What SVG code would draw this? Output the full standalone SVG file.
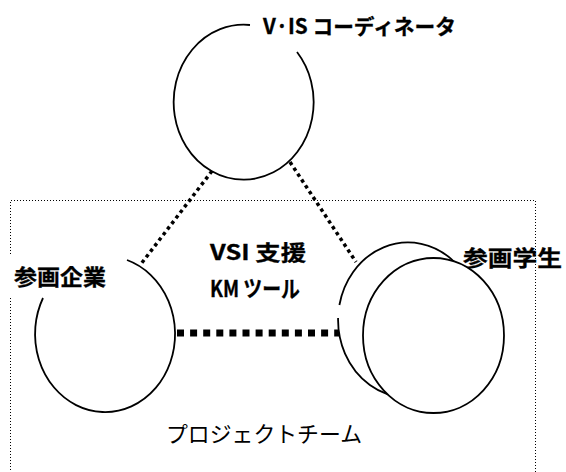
<svg xmlns="http://www.w3.org/2000/svg" width="566" height="472" viewBox="0 0 566 472">
<style>
  .ring { fill: none; stroke: #000; stroke-width: 1.8; }
  .ringw { fill: #fff; stroke: #000; stroke-width: 1.8; }
  .frame { fill: none; stroke: #000; stroke-width: 1; stroke-dasharray: 1 2; }
  .link { fill: none; stroke: #000; stroke-width: 3.5; stroke-dasharray: 3.5 3.5; }
  .bond { fill: none; stroke: #000; stroke-width: 7; stroke-dasharray: 7 6.1; }
  .lb { font-family: "Noto Sans CJK JP", "Noto Sans", sans-serif; font-weight: bold; fill: #000; stroke: #000; stroke-width: 0.3; }
  .ln { font-family: "Noto Sans CJK JP", "Noto Sans", sans-serif; font-weight: normal; fill: #000; }
</style>
<rect x="0" y="0" width="566" height="472" fill="#fff"/>

<g id="team">
  <path class="frame" d="M10.5,254 V200.5 H535.5 V480 M10.5,298 V480"/>
  <text class="ln" x="166" y="441.5" font-size="22" textLength="196" lengthAdjust="spacingAndGlyphs">プロジェクトチーム</text>
</g>

<g id="coordinator">
  <path class="ring" d="M297,52 A70,77.5 0 1 1 250,25"/>
  <text class="lb" x="263" y="34" font-size="21" textLength="193" lengthAdjust="spacingAndGlyphs">V·IS コーディネータ</text>
</g>

<g id="company">
  <path class="ring" d="M127,260 A70,78 0 1 1 43,298"/>
  <text class="lb" x="14" y="285" font-size="22" textLength="92" lengthAdjust="spacingAndGlyphs">参画企業</text>
</g>

<g id="students">
  <path class="ring" d="M338.1,318 A70,77.5 0 1 0 339.4,305"/>
  <ellipse class="ringw" cx="433.5" cy="335.5" rx="70.5" ry="77.5"/>
  <text class="lb" x="463" y="266" font-size="22" textLength="99" lengthAdjust="spacingAndGlyphs">参画学生</text>
</g>

<g id="connectors">
  <path class="link" d="M212,171 L141,264"/>
  <path class="link" d="M290,162 L356,262"/>
  <path class="bond" d="M177,333 H339"/>
</g>

<g id="support">
  <text class="lb" x="210" y="260" font-size="21" textLength="96" lengthAdjust="spacingAndGlyphs">VSI 支援</text>
  <text class="lb" x="210" y="297" font-size="23" textLength="90" lengthAdjust="spacingAndGlyphs">KM ツール</text>
</g>
</svg>
